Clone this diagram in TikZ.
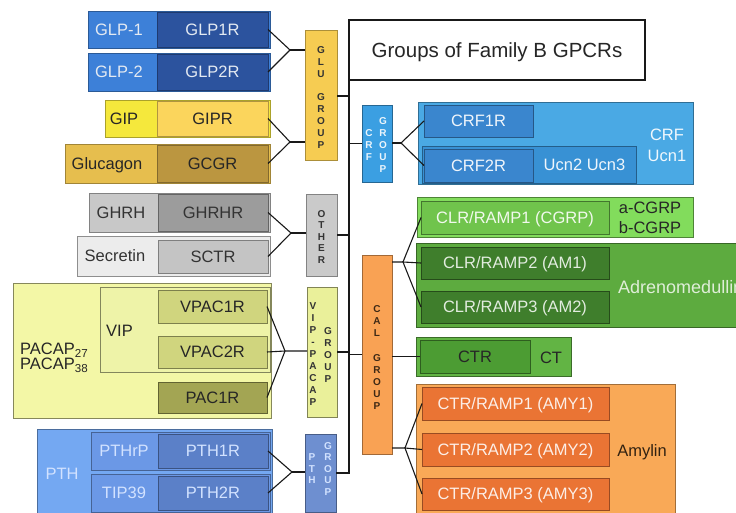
\documentclass[tikz,border=0pt]{standalone}
\usepackage{fontspec}
\setmainfont{Liberation Sans}
\definecolor{cLtxt}{HTML}{E4EAF2}
\definecolor{cDtxt}{HTML}{262626}
\definecolor{cGLPo}{HTML}{3D80D8}
\definecolor{cGLPi}{HTML}{2C539E}
\definecolor{cGIPo}{HTML}{F5E83C}
\definecolor{cGIPi}{HTML}{FBD55C}
\definecolor{cGCGo}{HTML}{E6BE4E}
\definecolor{cGCGi}{HTML}{BB9640}
\definecolor{cGLUg}{HTML}{F6CC52}
\definecolor{cGHo}{HTML}{C8C8C8}
\definecolor{cGHi}{HTML}{9C9C9C}
\definecolor{cSCo}{HTML}{ECECEC}
\definecolor{cSCi}{HTML}{C4C4C4}
\definecolor{cOTg}{HTML}{CACACA}
\definecolor{cPAo}{HTML}{F3F7A6}
\definecolor{cVIP}{HTML}{EEF3A8}
\definecolor{cVPi}{HTML}{D0D57E}
\definecolor{cPACi}{HTML}{A3A553}
\definecolor{cVPg}{HTML}{EAF09A}
\definecolor{cPTo}{HTML}{74A8F2}
\definecolor{cPTm}{HTML}{6B98E6}
\definecolor{cPTi}{HTML}{5B80C8}
\definecolor{cPTg}{HTML}{6E8FD0}
\definecolor{cPTtxt}{HTML}{D2E2FF}
\definecolor{cCRg}{HTML}{3B9FE2}
\definecolor{cCRo}{HTML}{4AA9E4}
\definecolor{cCRi}{HTML}{3A86CE}
\definecolor{cUcn}{HTML}{3891D4}
\definecolor{cCGo}{HTML}{82DC5C}
\definecolor{cCGi}{HTML}{70C44C}
\definecolor{cAMo}{HTML}{5DAB3F}
\definecolor{cAMi}{HTML}{3F7E2C}
\definecolor{cCTo}{HTML}{62B444}
\definecolor{cCTi}{HTML}{4C9C33}
\definecolor{cCAg}{HTML}{F9A254}
\definecolor{cAYo}{HTML}{F9A957}
\definecolor{cAYi}{HTML}{EA7434}
\newcommand\B[7]{\node[bx,minimum width={(#4)-(#2)},minimum height={(#5)-(#3)},#6] (#1) at (#2,#3) {#7};}
\begin{document}
\begin{tikzpicture}[x=1pt,y=-1pt,
  bx/.style={rectangle,inner sep=0pt,outer sep=0pt,line width=0.8pt,anchor=north west,
    font=\fontsize{16.5}{19}\selectfont,text height=11.8pt,text depth=0pt},
  lb/.style={inner sep=0pt,font=\fontsize{16.5}{19}\selectfont,text height=11.8pt,text depth=0pt},
  gl/.style={inner sep=0pt,align=center},
  gf/.style={font=\fontsize{10}{#1}\selectfont\bfseries},
  cn/.style={line width=1.1pt,draw=black!90},
  ml/.style={line width=1.4pt,draw=black!90}]
\clip (0,0) rectangle (736,513);
\fill[white] (0,0) rectangle (736,513);
% ---------- GLU group ----------
\B{glpa}{88}{11}{270}{48}{fill=cGLPo,draw=cGLPo!70!black}{}
\B{glpar}{157}{12}{268}{47}{fill=cGLPi,draw=cGLPi!70!black,text=cLtxt}{GLP1R}
\B{glpb}{88}{53}{270}{91}{fill=cGLPo,draw=cGLPo!70!black}{}
\B{glpbr}{157}{54}{268}{90}{fill=cGLPi,draw=cGLPi!70!black,text=cLtxt}{GLP2R}
\B{gip}{105}{100}{270}{137}{fill=cGIPo,draw=cGIPo!70!black}{}
\B{gipr}{157}{101}{268}{136}{fill=cGIPi,draw=cGIPi!70!black,text=cDtxt}{GIPR}
\B{gcg}{65}{144}{270}{183}{fill=cGCGo,draw=cGCGo!70!black}{}
\B{gcgr}{157}{145}{268}{182}{fill=cGCGi,draw=cGCGi!70!black,text=cDtxt}{GCGR}
\node[lb,text=cLtxt] (tglpa) at (119,29.5) {GLP-1};
\node[lb,text=cLtxt] (tglpb) at (119,72) {GLP-2};
\node[lb,text=cDtxt] (tgip) at (124,118.5) {GIP};
\node[lb,text=cDtxt] (tgcg) at (107,163.5) {Glucagon};
\B{glug}{305}{30}{337}{160}{fill=cGLUg,draw=cGLUg!70!black}{}
\node[gl,text=black!80,gf=12] (glut) at (321,98) {G\\L\\U\\[11pt]G\\R\\O\\U\\P};
% ---------- OTHER ----------
\B{gh}{89}{193}{270}{232}{fill=cGHo,draw=cGHo!65!black}{}
\B{ghr}{158}{194}{268}{231}{fill=cGHi,draw=cGHi!65!black,text=black!80}{GHRHR}
\B{sc}{77}{236}{270}{276}{fill=cSCo,draw=cSCo!60!black}{}
\B{scr}{158}{240}{268}{273}{fill=cSCi,draw=cSCi!65!black,text=black!80}{SCTR}
\node[lb,text=black!80] (tgh) at (121,213) {GHRH};
\node[lb,text=black!80] (tsc) at (115,256) {Secretin};
\B{otg}{306}{194}{337}{276}{fill=cOTg,draw=cOTg!65!black}{}
\node[gl,text=black!80,gf=11.5] (otgt) at (321.5,237) {O\\T\\H\\E\\R};
% ---------- VIP-PACAP ----------
\B{pa}{13}{283}{271}{418}{fill=cPAo,draw=cPAo!55!black}{}
\B{vip}{100}{287}{270}{372}{fill=cVIP,draw=cVIP!55!black}{}
\B{vpa}{158}{290}{267}{323}{fill=cVPi,draw=cVPi!60!black,text=cDtxt}{VPAC1R}
\B{vpb}{158}{336}{267}{368}{fill=cVPi,draw=cVPi!60!black,text=cDtxt}{VPAC2R}
\B{pac}{158}{382}{267}{413}{fill=cPACi,draw=cPACi!60!black,text=cDtxt}{PAC1R}
\node[lb,text=cDtxt] (tvip) at (119.5,331) {VIP};
\node[lb,text=cDtxt,anchor=west] (tpa) at (20,349) {PACAP\textsubscript{27}};
\node[lb,text=cDtxt,anchor=west] (tpb) at (20,364) {PACAP\textsubscript{38}};
\B{vpg}{307}{287}{337}{417}{fill=cVPg,draw=cVPg!55!black}{}
\node[gl,text=black!80,gf=11.9] (vpgl) at (313,354) {V\\I\\P\\-\\P\\A\\C\\A\\P};
\node[gl,text=black!80,gf=11.8] (vpgr) at (328,355) {G\\R\\O\\U\\P};
% ---------- PTH ----------
\B{pt}{37}{429}{272}{516}{fill=cPTo,draw=cPTo!65!black}{}
\B{ptrp}{91}{432}{270}{470}{fill=cPTm,draw=cPTm!65!black}{}
\B{ptar}{158}{434}{268}{468}{fill=cPTi,draw=cPTi!65!black,text=cPTtxt}{PTH1R}
\B{tip}{91}{474}{270}{512}{fill=cPTm,draw=cPTm!65!black}{}
\B{ptbr}{158}{476}{268}{510}{fill=cPTi,draw=cPTi!65!black,text=cPTtxt}{PTH2R}
\node[lb,text=cPTtxt] (tpth) at (62,474) {PTH};
\node[lb,text=cPTtxt] (tptrp) at (124,451) {PTHrP};
\node[lb,text=cPTtxt] (ttip) at (124,493) {TIP39};
\B{ptg}{305}{434}{336}{512}{fill=cPTg,draw=cPTg!65!black}{}
\node[gl,text=cPTtxt,gf=11.5] (ptgl) at (312,469) {P\\T\\H};
\node[gl,text=cPTtxt,gf=11.5] (ptgr) at (328,469) {G\\R\\O\\U\\P};
% ---------- CRF ----------
\B{crfg}{362}{105}{392}{182}{fill=cCRg,draw=cCRg!65!black}{}
\node[gl,text=white!90!cCRg,gf=12] (crfgl) at (369,145) {C\\R\\F};
\node[gl,text=white!90!cCRg,gf=12] (crfgr) at (383,145) {G\\R\\O\\U\\P};
\B{crf}{418}{102}{693}{184}{fill=cCRo,draw=cCRo!65!black}{}
\B{crfa}{424}{105}{533}{137}{fill=cCRi,draw=cCRi!65!black,text=white!92!cCRi}{CRF1R}
\B{ucn}{422}{146}{636}{183}{fill=cUcn,draw=cUcn!65!black}{}
\B{crfb}{424}{149}{533}{182}{fill=cCRi,draw=cCRi!65!black,text=white!92!cCRi}{CRF2R}
\node[lb,text=white!92!cUcn] (tucn) at (584.5,165) {Ucn2 Ucn3};
\node[lb,text=white!92!cCRo] (tcrf) at (667,135) {CRF};
\node[lb,text=white!92!cCRo] (tucna) at (667,156) {Ucn1};
% ---------- CAL ----------
\B{calg}{362}{255}{392}{454}{fill=cCAg,draw=cCAg!65!black}{}
\node[gl,text=black!75!cCAg,gf=12] (calt) at (377,358) {C\\A\\L\\[13pt]G\\R\\O\\U\\P};
\B{cg}{417}{197}{693}{237}{fill=cCGo,draw=cCGo!60!black}{}
\B{cla}{421}{201}{609}{234}{fill=cCGi,draw=cCGi!60!black,text=white!90!cCGi}{CLR/RAMP1 (CGRP)}
\node[lb,text=cDtxt] (tcga) at (650,208) {a-CGRP};
\node[lb,text=cDtxt] (tcgb) at (650,228) {b-CGRP};
\B{am}{416}{243}{745}{327}{fill=cAMo,draw=cAMo!60!black}{}
\B{clb}{421}{247}{609}{279}{fill=cAMi,draw=cAMi!60!black,text=white!85!cAMi}{CLR/RAMP2 (AM1)}
\B{clc}{421}{291}{609}{323}{fill=cAMi,draw=cAMi!60!black,text=white!85!cAMi}{CLR/RAMP3 (AM2)}
\node[lb,text=white!80!cAMo,anchor=west,font=\fontsize{18}{21}\selectfont,text height=12.9pt] (tadm) at (618,287) {Adrenomedullin};
\B{ct}{416}{337}{571}{376}{fill=cCTo,draw=cCTo!60!black}{}
\B{ctr}{420}{340}{530}{373}{fill=cCTi,draw=cCTi!60!black,text=cDtxt}{CTR}
\node[lb,text=cDtxt] (tct) at (551,358) {CT};
\B{amy}{416}{384}{675}{520}{fill=cAYo,draw=cAYo!65!black}{}
\B{cra}{422}{387}{609}{420}{fill=cAYi,draw=cAYi!65!black,text=white!88!cAYi}{CTR/RAMP1 (AMY1)}
\B{crb}{422}{433}{609}{466}{fill=cAYi,draw=cAYi!65!black,text=white!88!cAYi}{CTR/RAMP2 (AMY2)}
\B{crc}{422}{478}{609}{510}{fill=cAYi,draw=cAYi!65!black,text=white!88!cAYi}{CTR/RAMP3 (AMY3)}
\node[lb,text=black!80!cAYo] (tamy) at (642,451) {Amylin};
% ---------- title ----------
\node[bx,draw=black!90,line width=1.4pt,fill=white,minimum width=296,minimum height=60,
  font=\fontsize{20.5}{24}\selectfont,text height=14.7pt,text=black!85] (title) at (349,20) {Groups of Family B GPCRs};
% ---------- connectors ----------
\coordinate (mb) at (349,473);
\coordinate (bglu) at (349,96);
\draw[ml] (title.south west) -- (mb) -- (ptg.east);
\draw[cn] (bglu -| glug.east) -- (bglu);
\draw[cn] (otg.east) -- (otg.east -| mb);
\draw[cn] (vpg.east) -- (vpg.east -| mb);
\draw[cn] (crfg.west) -- (crfg.west -| mb);
\draw[cn] (calg.west) -- (calg.west -| mb);
\coordinate (fa) at (290,50);
\draw[cn] (glpar.east) -- (fa) -- (glpbr.east);
\draw[cn] (fa) -- (fa -| glug.west);
\coordinate (fb) at (290,142);
\draw[cn] (gipr.east) -- (fb) -- (gcgr.east);
\draw[cn] (fb) -- (fb -| glug.west);
\coordinate (fc) at (291,233);
\draw[cn] (ghr.east) -- (fc) -- (scr.east);
\draw[cn] (fc) -- (fc -| otg.west);
\coordinate (fd) at (285,351);
\draw[cn] (vpa.east) -- (fd) -- (pac.east);
\draw[cn] (vpb.east) -- (fd) -- (fd -| vpg.west);
\coordinate (fe) at (292,472);
\draw[cn] (ptar.east) -- (fe) -- (ptbr.east);
\draw[cn] (fe) -- (fe -| ptg.west);
\coordinate (ff) at (401,143);
\draw[cn] (crfa.west) -- (ff) -- (crfb.west);
\draw[cn] (ff) -- (ff -| crfg.east);
\coordinate (fg) at (403,262);
\draw[cn] (fg -| calg.east) -- (fg) -- (cla.west);
\draw[cn] (clb.west) -- (fg) -- (clc.west);
\draw[cn] (ctr.west -| calg.east) -- (ctr.west);
\coordinate (fh) at (405,448);
\draw[cn] (fh -| calg.east) -- (fh) -- (cra.west);
\draw[cn] (crb.west) -- (fh) -- (crc.west);
\end{tikzpicture}
\end{document}
